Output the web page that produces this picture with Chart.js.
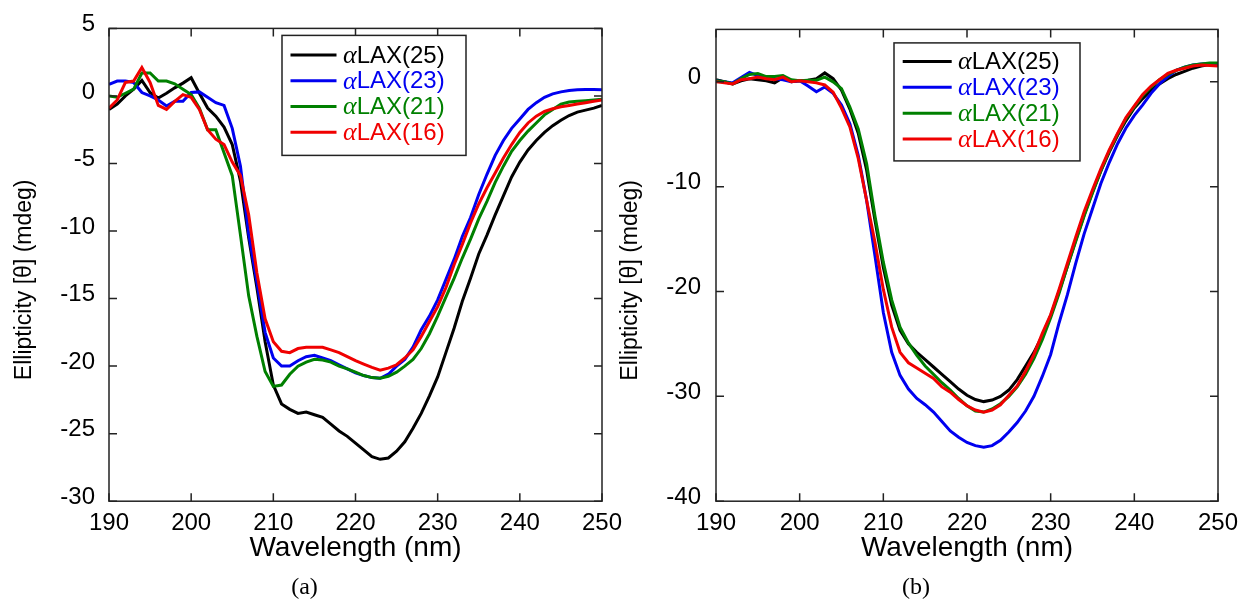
<!DOCTYPE html>
<html>
<head>
<meta charset="utf-8">
<script src="https://cdn.jsdelivr.net/npm/chart.js@4.4.0/dist/chart.umd.min.js"></script>
<style>
  html, body { margin: 0; padding: 0; background: #fff; }
  body { width: 1242px; height: 602px; position: relative; overflow: hidden; }
  canvas { position: absolute; top: 0; }
  #chartA { left: 0; }
  #chartB { left: 600px; }
</style>
</head>
<body>
<canvas id="chartA" width="640" height="602"></canvas>
<canvas id="chartB" width="660" height="602"></canvas>
<script>
// wavelength (nm), 1 nm steps
const wavelength = [190,191,192,193,194,195,196,197,198,199,
  200,201,202,203,204,205,206,207,208,209,
  210,211,212,213,214,215,216,217,218,219,
  220,221,222,223,224,225,226,227,228,229,
  230,231,232,233,234,235,236,237,238,239,
  240,241,242,243,244,245,246,247,248,249,250];

const names = ['αLAX(25)', 'αLAX(23)', 'αLAX(21)', 'αLAX(16)'];
const colors = ['#000000', '#0000f0', '#008000', '#f00000'];

const xTicks = [190, 200, 210, 220, 230, 240, 250];
const yTicksA = [-30, -25, -20, -15, -10, -5, 0, 5];
const yRangeA = [-30, 5];
const yTicksB = [-40, -30, -20, -10, 0];
const yRangeB = [-40, 5];

const xLabel = 'Wavelength (nm)';
const yLabel = 'Ellipticity [θ] (mdeg)';

// panel (a) ellipticity, mdeg
const a_lax25 = [-1.0,-0.6,0.0,0.5,1.15,0.25,-0.15,0.2,0.6,0.95,
  1.35,0.2,-0.9,-1.5,-2.3,-3.6,-6.3,-10.5,-14.2,-18.2,
  -21.4,-22.8,-23.2,-23.5,-23.4,-23.6,-23.8,-24.3,-24.8,-25.2,
  -25.7,-26.2,-26.7,-26.9,-26.8,-26.3,-25.6,-24.6,-23.5,-22.2,
  -20.8,-19.0,-17.2,-15.2,-13.5,-11.7,-10.3,-8.8,-7.4,-6.0,
  -4.9,-4.0,-3.3,-2.7,-2.2,-1.8,-1.45,-1.2,-1.05,-0.9,-0.7];
const a_lax23 = [0.85,1.1,1.1,1.0,0.25,0.0,-0.3,-0.75,-0.4,-0.4,
  0.25,0.3,-0.1,-0.5,-0.7,-2.4,-5.2,-10.2,-13.8,-17.5,
  -19.4,-20.0,-20.0,-19.6,-19.3,-19.2,-19.4,-19.6,-19.9,-20.2,
  -20.5,-20.7,-20.85,-20.9,-20.6,-20.0,-19.5,-18.6,-17.3,-16.3,
  -15.1,-13.6,-12.1,-10.4,-9.0,-7.3,-5.8,-4.4,-3.3,-2.4,
  -1.7,-1.0,-0.5,-0.1,0.15,0.3,0.4,0.45,0.47,0.47,0.45];
const a_lax21 = [0.0,-0.1,0.2,0.5,1.7,1.7,1.1,1.1,0.9,0.5,
  0.1,-0.9,-2.5,-2.5,-4.2,-5.9,-10.3,-14.8,-17.8,-20.4,
  -21.5,-21.4,-20.6,-20.0,-19.7,-19.5,-19.55,-19.7,-20.0,-20.2,
  -20.45,-20.7,-20.85,-20.9,-20.75,-20.45,-20.0,-19.5,-18.7,-17.6,
  -16.3,-14.9,-13.5,-12.0,-10.6,-9.1,-7.8,-6.4,-5.2,-4.1,
  -3.3,-2.6,-2.0,-1.4,-1.0,-0.6,-0.45,-0.4,-0.35,-0.3,-0.25];
const a_lax16 = [-0.9,-0.3,1.0,1.1,2.1,1.0,-0.7,-1.0,-0.4,0.1,
  -0.1,-1.0,-2.5,-3.2,-3.6,-4.9,-5.9,-8.8,-13.1,-16.5,
  -18.2,-18.9,-19.0,-18.7,-18.6,-18.6,-18.6,-18.8,-19.0,-19.3,
  -19.6,-19.85,-20.1,-20.3,-20.15,-19.9,-19.4,-18.8,-17.8,-16.7,
  -15.6,-14.2,-12.5,-11.0,-9.4,-8.0,-6.8,-5.7,-4.6,-3.6,
  -2.7,-2.0,-1.5,-1.15,-0.95,-0.8,-0.7,-0.6,-0.5,-0.4,-0.3];

// panel (b) ellipticity, mdeg
const b_lax25 = [0.2,0.0,-0.2,0.1,0.3,0.2,0.1,-0.1,0.4,0.0,
  0.1,0.15,0.3,0.85,0.3,-0.8,-2.6,-4.9,-8.4,-13.2,
  -17.7,-21.3,-23.7,-25.0,-25.8,-26.5,-27.2,-27.9,-28.6,-29.3,
  -29.9,-30.3,-30.5,-30.35,-30.0,-29.4,-28.4,-27.1,-25.8,-24.2,
  -22.3,-20.0,-17.6,-15.1,-12.7,-10.5,-8.5,-6.7,-5.1,-3.7,
  -2.5,-1.6,-0.8,-0.2,0.3,0.7,1.0,1.3,1.5,1.65,1.75];
const b_lax23 = [0.1,0.0,-0.1,0.4,0.9,0.6,0.4,0.3,0.2,0.0,
  0.1,-0.4,-0.95,-0.5,-1.1,-2.2,-4.0,-7.0,-11.3,-16.6,
  -22.0,-25.8,-28.0,-29.3,-30.2,-30.8,-31.5,-32.4,-33.3,-33.9,
  -34.4,-34.7,-34.85,-34.7,-34.2,-33.4,-32.5,-31.4,-30.0,-28.1,
  -26.0,-23.0,-20.3,-17.3,-14.5,-12.1,-9.7,-7.7,-5.9,-4.4,
  -3.2,-2.2,-1.1,-0.2,0.5,1.1,1.4,1.6,1.7,1.75,1.75];
const b_lax21 = [0.1,0.0,-0.2,0.3,0.7,0.8,0.5,0.5,0.6,0.2,
  0.1,0.14,0.15,0.45,0.0,-0.65,-2.4,-4.5,-7.8,-12.8,
  -17.2,-20.8,-23.4,-24.9,-26.1,-27.1,-27.9,-28.7,-29.4,-30.2,
  -30.9,-31.4,-31.5,-31.2,-30.7,-30.0,-29.1,-27.9,-26.4,-24.6,
  -22.5,-20.2,-17.6,-15.2,-12.8,-10.6,-8.5,-6.6,-5.0,-3.5,
  -2.4,-1.3,-0.5,0.2,0.7,1.1,1.4,1.6,1.7,1.8,1.8];
const b_lax16 = [0.0,-0.1,-0.2,0.2,0.3,0.45,0.3,0.2,0.45,0.0,
  0.1,0.0,-0.1,-0.3,-1.0,-2.5,-4.3,-7.3,-11.3,-15.3,
  -19.8,-23.4,-25.8,-26.8,-27.3,-27.8,-28.3,-29.1,-29.6,-30.3,
  -30.9,-31.3,-31.5,-31.3,-30.8,-29.9,-29.0,-27.6,-26.0,-24.0,
  -22.2,-19.8,-17.3,-14.8,-12.4,-10.3,-8.3,-6.5,-4.9,-3.4,
  -2.3,-1.2,-0.4,0.2,0.8,1.1,1.3,1.5,1.6,1.55,1.5];

const SANS = "'Liberation Sans', Arial, sans-serif";
const SERIF = "'Liberation Serif', 'Times New Roman', serif";

// box around the plot with inward ticks on all four sides
const framePlugin = {
  id: 'frame',
  afterDatasetsDraw(chart) {
    const {ctx, chartArea: a, scales: {x, y}} = chart;
    const len = 8;
    ctx.save();
    ctx.strokeStyle = '#222';
    ctx.lineWidth = 1.5;
    ctx.beginPath();
    x.ticks.forEach(t => {
      const px = x.getPixelForValue(t.value);
      ctx.moveTo(px, a.bottom); ctx.lineTo(px, a.bottom - len);
      ctx.moveTo(px, a.top); ctx.lineTo(px, a.top + len);
    });
    y.ticks.forEach(t => {
      const py = y.getPixelForValue(t.value);
      ctx.moveTo(a.left, py); ctx.lineTo(a.left + len, py);
      ctx.moveTo(a.right, py); ctx.lineTo(a.right - len, py);
    });
    ctx.stroke();
    ctx.strokeRect(a.left, a.top, a.right - a.left, a.bottom - a.top);
    ctx.restore();
  }
};

// rotated y title, sits a bit below the middle of the axis as in the figure
const yTitle = {
  id: 'yTitle',
  afterDraw(chart, args, o) {
    const {ctx, chartArea: a} = chart;
    ctx.save();
    ctx.translate(o.x, (a.top + a.bottom) / 2 + o.dy);
    ctx.rotate(-Math.PI / 2);
    ctx.font = o.size + 'px ' + SANS;
    ctx.fillStyle = '#000';
    ctx.textAlign = 'center';
    ctx.textBaseline = 'middle';
    ctx.fillText(yLabel, 0, 0);
    ctx.restore();
  }
};

// legend box drawn inside the plot
const boxLegend = {
  id: 'boxLegend',
  afterDraw(chart, args, o) {
    const {ctx, chartArea: a} = chart;
    const bx = a.left + o.dx, by = a.top + o.dy;
    ctx.save();
    ctx.fillStyle = '#fff';
    ctx.fillRect(bx, by, o.w, o.h);
    ctx.strokeStyle = '#222';
    ctx.lineWidth = 1.5;
    ctx.strokeRect(bx, by, o.w, o.h);
    ctx.textBaseline = 'middle';
    names.forEach((name, i) => {
      const ry = by + o.first + i * o.row;
      ctx.strokeStyle = colors[i];
      ctx.lineWidth = 3;
      ctx.beginPath();
      ctx.moveTo(bx + o.line0, ry);
      ctx.lineTo(bx + o.line1, ry);
      ctx.stroke();
      ctx.fillStyle = colors[i];
      ctx.font = 'italic 26px ' + SERIF;
      const greek = name.charAt(0);
      ctx.fillText(greek, bx + o.text, ry + 1);
      const gw = ctx.measureText(greek).width;
      ctx.font = '24px ' + SANS;
      ctx.fillText(name.slice(1), bx + o.text + gw, ry + 1);
    });
    ctx.restore();
  }
};

function makeChart(id, series, yTicks, yRange, caption, lay, legend, ytitle) {
  const datasets = series.map((vals, i) => ({
    label: names[i],
    data: wavelength.map((w, k) => ({x: w, y: vals[k]})),
    borderColor: colors[i],
    borderWidth: 3,
    pointRadius: 0,
    tension: 0,
    order: series.length - i
  }));
  return new Chart(document.getElementById(id), {
    type: 'line',
    data: {datasets: datasets},
    plugins: [framePlugin, boxLegend, yTitle],
    options: {
      responsive: false,
      animation: false,
      layout: {padding: {top: 28, left: lay.left, right: lay.right, bottom: 0}},
      plugins: {
        legend: {display: false},
        tooltip: {enabled: false},
        title: {
          display: true,
          position: 'bottom',
          text: caption,
          color: '#000',
          font: {family: SERIF, size: 24, weight: 'normal'},
          padding: 0
        },
        boxLegend: legend,
        yTitle: ytitle
      },
      scales: {
        x: {
          type: 'linear',
          min: xTicks[0],
          max: xTicks[xTicks.length - 1],
          afterBuildTicks: s => { s.ticks = xTicks.map(v => ({value: v})); },
          afterFit: s => { s.height = 72; },
          grid: {display: false, tickLength: 0},
          border: {display: false},
          ticks: {color: '#000', font: {family: SANS, size: 24}, padding: 8, maxRotation: 0},
          title: {
            display: true,
            text: xLabel,
            color: '#000',
            font: {family: SANS, size: 28},
            padding: {top: 0, bottom: 8}
          }
        },
        y: {
          min: yRange[0],
          max: yRange[1],
          afterBuildTicks: s => { s.ticks = yTicks.map(v => ({value: v})); },
          afterFit: s => { s.width = lay.yWidth; },
          grid: {display: false, tickLength: 0},
          border: {display: false},
          ticks: {color: '#000', font: {family: SANS, size: 24}, padding: lay.tickPad, labelOffset: -4}
        }
      }
    }
  });
}

makeChart('chartA', [a_lax25, a_lax23, a_lax21, a_lax16], yTicksA, yRangeA, '(a)',
  {left: 7, right: 38, yWidth: 102, tickPad: 14},
  {dx: 173, dy: 7, w: 184, h: 120, first: 19.5, row: 25.8, line0: 8.5, line1: 54.5, text: 61},
  {x: 25, dy: 15, size: 23});

makeChart('chartB', [b_lax25, b_lax23, b_lax21, b_lax16], yTicksB, yRangeB, '(b)',
  {left: 14, right: 42, yWidth: 102, tickPad: 15},
  {dx: 178, dy: 13.5, w: 186, h: 118, first: 18.5, row: 25.9, line0: 8.7, line1: 57.7, text: 64},
  {x: 31, dy: 15, size: 23});
</script>
</body>
</html>
